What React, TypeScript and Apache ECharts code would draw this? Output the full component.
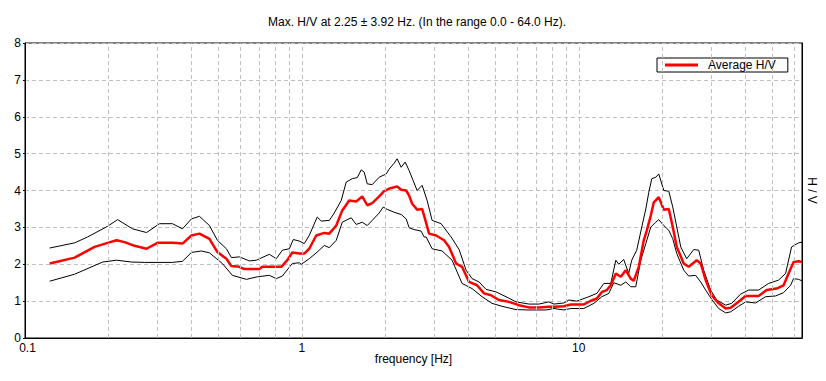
import React, { useEffect, useRef } from 'react';
import * as echarts from 'echarts';

const TITLE = 'Max. H/V at 2.25 ± 3.92 Hz. (In the range 0.0 - 64.0 Hz).';
const X_NAME = 'frequency [Hz]';
const Y_NAME = 'H / V';
const AVG_NAME = 'Average H/V';
const UPPER_NAME = 'Average + std';
const LOWER_NAME = 'Average - std';

const X_MIN = 0.1;
const X_MAX = 64;
const Y_MIN = 0;
const Y_MAX = 8;

// frequencies of the dashed vertical grid lines
const GRID_FREQS = [
  0.2, 0.3, 0.4, 0.5, 0.6, 0.7, 0.8, 0.9, 1,
  2, 3, 4, 5, 6, 7, 8, 9, 10,
  20, 30, 40, 50, 60,
];

// [frequency Hz, H/V]
const AVERAGE: [number, number][] = [
  [0.1228, 2.02], [0.1511, 2.18], [0.1784, 2.47], [0.1988, 2.58], [0.2142, 2.65],
  [0.2289, 2.6], [0.2487, 2.5], [0.2748, 2.42], [0.3009, 2.58], [0.3408, 2.58],
  [0.3705, 2.56], [0.3991, 2.78], [0.4266, 2.83], [0.4636, 2.69], [0.4953, 2.33],
  [0.5338, 2.15], [0.5565, 1.95], [0.5947, 1.93], [0.6199, 1.87], [0.7021, 1.87],
  [0.7197, 1.93], [0.8428, 1.93], [0.8858, 2.11], [0.9235, 2.32], [0.9786, 2.29],
  [1.02, 2.29], [1.063, 2.42], [1.127, 2.78], [1.205, 2.85], [1.256, 2.83],
  [1.331, 3.05], [1.399, 3.46], [1.482, 3.73], [1.571, 3.7], [1.652, 3.84],
  [1.722, 3.6], [1.795, 3.66], [1.902, 3.84], [1.982, 3.98], [2.066, 4.05],
  [2.154, 4.09], [2.208, 4.11], [2.283, 4.02], [2.38, 4.0], [2.44, 3.86],
  [2.502, 3.64], [2.607, 3.48], [2.718, 3.5], [2.763, 3.32], [2.88, 2.83],
  [3.053, 2.78], [3.263, 2.65], [3.401, 2.47], [3.605, 2.02], [3.789, 1.93],
  [4.016, 1.52], [4.292, 1.43], [4.549, 1.21], [4.82, 1.16], [5.15, 1.03],
  [5.598, 0.98], [6.081, 0.89], [6.607, 0.83], [7.179, 0.83], [7.8, 0.85],
  [8.131, 0.85], [8.838, 0.86], [9.365, 0.91], [10.43, 0.91], [11.06, 1.01],
  [11.62, 1.07], [12.12, 1.25], [12.63, 1.3], [13.05, 1.43], [13.61, 1.75],
  [14.18, 1.66], [14.78, 1.84], [15.4, 1.61], [15.79, 1.55], [16.47, 1.93],
  [17.17, 2.65], [17.61, 2.92], [18.2, 3.32], [18.66, 3.68], [19.45, 3.82],
  [20.28, 3.48], [21.14, 3.5], [21.85, 3.01], [22.59, 2.47], [23.93, 2.02],
  [24.95, 1.93], [26.66, 2.11], [27.56, 2.02], [28.73, 1.57], [30.2, 1.16],
  [32.01, 0.94], [33.93, 0.8], [35.36, 0.82], [37.17, 0.94], [40.05, 1.14],
  [42.1, 1.14], [44.62, 1.14], [47.68, 1.3], [51.8, 1.34], [54.91, 1.43],
  [57.24, 1.75], [59.67, 2.06], [62.2, 2.08], [64, 2.06],
];

const UPPER: [number, number][] = [
  [0.1228, 2.44], [0.1511, 2.58], [0.1683, 2.74], [0.1988, 3.03], [0.216, 3.21],
  [0.2446, 2.96], [0.2748, 2.86], [0.306, 3.1], [0.3408, 3.1], [0.3705, 2.96],
  [0.3991, 3.23], [0.4266, 3.3], [0.4636, 3.05], [0.4953, 2.65], [0.5338, 2.42],
  [0.5565, 2.18], [0.5947, 2.2], [0.6462, 2.09], [0.6848, 2.11], [0.7627, 2.27],
  [0.8085, 2.15], [0.8498, 2.38], [0.9008, 2.42], [0.9311, 2.67], [0.9786, 2.63],
  [1.02, 2.56], [1.063, 2.78], [1.136, 3.28], [1.175, 3.17], [1.256, 3.19],
  [1.309, 3.39], [1.387, 3.73], [1.446, 4.23], [1.52, 4.32], [1.585, 4.35],
  [1.638, 4.56], [1.679, 4.5], [1.722, 4.18], [1.795, 4.16], [1.902, 4.36],
  [2.016, 4.45], [2.066, 4.58], [2.154, 4.74], [2.208, 4.86], [2.283, 4.63],
  [2.36, 4.77], [2.44, 4.54], [2.522, 4.27], [2.607, 4.0], [2.718, 4.14],
  [2.833, 3.73], [2.953, 3.19], [3.183, 3.1], [3.458, 2.74], [3.696, 2.4],
  [3.917, 1.84], [4.117, 1.61], [4.364, 1.52], [4.624, 1.32], [5.024, 1.25],
  [5.46, 1.12], [5.933, 0.98], [6.607, 0.92], [7.179, 0.92], [7.8, 0.98],
  [8.131, 0.92], [8.838, 0.95], [9.211, 1.03], [9.842, 1.0], [10.88, 1.12],
  [11.62, 1.21], [12.32, 1.48], [13.05, 1.48], [13.61, 2.11], [13.94, 2.0],
  [14.53, 2.13], [15.15, 1.75], [15.53, 2.11], [16.19, 2.38], [16.89, 3.01],
  [17.46, 3.5], [17.9, 3.95], [18.35, 4.32], [18.97, 4.36], [19.45, 4.45],
  [20.28, 4.0], [21.14, 3.98], [21.85, 3.55], [23.35, 2.47], [24.54, 2.15],
  [26.01, 2.4], [27.11, 2.38], [28.26, 1.84], [29.93, 1.3], [31.48, 1.03],
  [33.93, 0.89], [35.66, 0.94], [38.42, 1.19], [41.06, 1.3], [44.62, 1.3],
  [48.48, 1.48], [52.67, 1.57], [55.83, 1.75], [58.69, 2.47], [62.2, 2.58],
  [64, 2.6],
];

const LOWER: [number, number][] = [
  [0.1228, 1.54], [0.1511, 1.73], [0.1907, 2.06], [0.2142, 2.11], [0.2426, 2.06],
  [0.2702, 2.05], [0.3408, 2.05], [0.3705, 2.08], [0.3991, 2.32], [0.4337, 2.36],
  [0.4636, 2.31], [0.5163, 2.02], [0.561, 1.7], [0.6303, 1.59], [0.6905, 1.66],
  [0.7627, 1.7], [0.8085, 1.61], [0.8498, 1.68], [0.9235, 2.02], [0.9786, 2.04],
  [0.995, 2.0], [1.063, 2.15], [1.136, 2.33], [1.205, 2.51], [1.256, 2.45],
  [1.331, 2.65], [1.399, 3.14], [1.507, 3.26], [1.571, 3.08], [1.652, 3.14],
  [1.722, 3.05], [1.795, 3.19], [1.902, 3.39], [1.966, 3.55], [2.032, 3.49],
  [2.154, 3.41], [2.283, 3.35], [2.38, 3.23], [2.44, 2.99], [2.543, 2.94],
  [2.695, 2.9], [2.763, 2.74], [2.81, 2.74], [2.953, 2.42], [3.209, 2.36],
  [3.487, 2.11], [3.789, 1.48], [4.117, 1.34], [4.474, 1.12], [4.86, 0.94],
  [5.281, 0.86], [5.933, 0.77], [6.607, 0.76], [7.607, 0.76], [8.131, 0.8],
  [8.838, 0.76], [9.365, 0.8], [10.43, 0.8], [11.34, 0.94], [12.12, 1.12],
  [12.84, 1.21], [13.38, 1.5], [14.18, 1.43], [14.78, 1.52], [15.4, 1.39],
  [16.06, 1.39], [16.75, 2.11], [17.46, 2.56], [18.2, 3.01], [18.97, 3.14],
  [19.45, 3.21], [20.28, 3.05], [21.14, 2.92], [21.85, 2.69], [22.59, 2.29],
  [23.93, 1.84], [24.95, 1.68], [26.44, 1.7], [27.56, 1.52], [28.73, 1.3],
  [30.2, 1.05], [32.01, 0.8], [33.93, 0.68], [35.36, 0.71], [37.79, 0.86],
  [40.05, 0.98], [43.52, 0.95], [47.28, 1.12], [51.38, 1.14], [54.91, 1.23],
  [58.2, 1.43], [59.67, 1.61], [62.2, 1.59], [64, 1.55],
];

const FONT = 'Arial, "Liberation Sans", sans-serif';
const GRID_COLOR = '#c0c0c0';

export default function App() {
  const ref = useRef<HTMLDivElement>(null);

  useEffect(() => {
    if (!ref.current) return;
    const chart = echarts.init(ref.current, null, { renderer: 'svg' });
    const isPow10 = (v: number) => {
      const l = Math.log10(v);
      return Math.abs(l - Math.round(l)) < 1e-6;
    };
    chart.setOption({
      animation: false,
      backgroundColor: '#fff',
      textStyle: { fontFamily: FONT },
      title: {
        text: TITLE,
        left: 412,
        top: 11,
        textAlign: 'center',
        textStyle: { fontSize: 12, fontWeight: 'normal', color: '#000', fontFamily: FONT },
      },
      legend: {
        data: [{ name: AVG_NAME, icon: 'rect' }],
        left: 657,
        top: 58,
        orient: 'horizontal',
        backgroundColor: '#fff',
        borderColor: '#000',
        borderWidth: 1,
        borderRadius: 0,
        padding: [1, 12, 1, 8],
        itemWidth: 33,
        itemHeight: 3,
        itemStyle: { color: '#ff0000' },
        textStyle: { fontSize: 12, color: '#000', fontFamily: FONT, padding: [0, 0, 0, 5] },
      },
      grid: {
        left: 25,
        top: 43,
        width: 777,
        height: 295,
        show: true,
        borderColor: '#000',
        borderWidth: 1,
        containLabel: false,
      },
      xAxis: {
        type: 'log',
        logBase: 10,
        min: X_MIN,
        max: X_MAX,
        name: X_NAME,
        nameLocation: 'middle',
        nameGap: 15,
        nameMoveOverlap: false,
        nameTextStyle: { fontSize: 12, color: '#000', fontFamily: FONT },
        axisLine: { show: true, lineStyle: { color: '#000', width: 1 } },
        axisTick: { show: false },
        splitLine: { show: false },
        minorTick: { show: false },
        axisLabel: {
          margin: 4,
          fontSize: 12,
          color: '#000',
          fontFamily: FONT,
          formatter: (v: number) => {
            if (!isPow10(v)) return '';
            const s = String(Number(v.toPrecision(6)));
            return v < 0.5 ? '{first|' + s + '}' : s;
          },
          rich: {
            first: { fontSize: 12, color: '#000', fontFamily: FONT, padding: [0, 0, 0, 5] },
          },
        },
      },
      yAxis: [
        {
          type: 'value',
          min: Y_MIN,
          max: Y_MAX,
          interval: 1,
          axisLine: { show: true, lineStyle: { color: '#000', width: 1 } },
          axisTick: { show: true, length: 2, lineStyle: { color: '#000' } },
          axisLabel: { margin: 4, fontSize: 12, color: '#000', fontFamily: FONT },
          splitLine: { show: true, lineStyle: { color: GRID_COLOR, type: [4, 3], width: 1 } },
        },
        {
          type: 'value',
          position: 'right',
          min: Y_MIN,
          max: Y_MAX,
          interval: 1,
          name: Y_NAME,
          nameLocation: 'middle',
          nameRotate: -90,
          nameGap: 4,
          nameMoveOverlap: false,
          nameTextStyle: { fontSize: 12, color: '#000', fontFamily: FONT },
          axisLine: { show: true, lineStyle: { color: '#000', width: 1 } },
          axisTick: { show: false },
          axisLabel: { show: false },
          splitLine: { show: false },
        },
      ],
      series: [
        {
          name: 'grid',
          type: 'line',
          data: [],
          silent: true,
          z: 1,
          markLine: {
            silent: true,
            symbol: ['none', 'none'],
            label: { show: false },
            lineStyle: { color: GRID_COLOR, type: [4, 3], width: 1 },
            data: GRID_FREQS.map((f) => ({ xAxis: f })),
          },
        },
        {
          name: UPPER_NAME,
          type: 'line',
          data: UPPER,
          showSymbol: false,
          symbol: 'none',
          z: 3,
          lineStyle: { color: '#000', width: 1 },
          itemStyle: { color: '#000' },
        },
        {
          name: LOWER_NAME,
          type: 'line',
          data: LOWER,
          showSymbol: false,
          symbol: 'none',
          z: 3,
          lineStyle: { color: '#000', width: 1 },
          itemStyle: { color: '#000' },
        },
        {
          name: AVG_NAME,
          type: 'line',
          data: AVERAGE,
          showSymbol: false,
          symbol: 'none',
          z: 4,
          lineStyle: { color: '#ff0000', width: 2.5 },
          itemStyle: { color: '#ff0000' },
        },
      ],
    });
    return () => chart.dispose();
  }, []);

  return (
    <div
      ref={ref}
      style={{ position: 'fixed', left: 0, top: 0, width: 826, height: 381, background: '#fff' }}
    />
  );
}
